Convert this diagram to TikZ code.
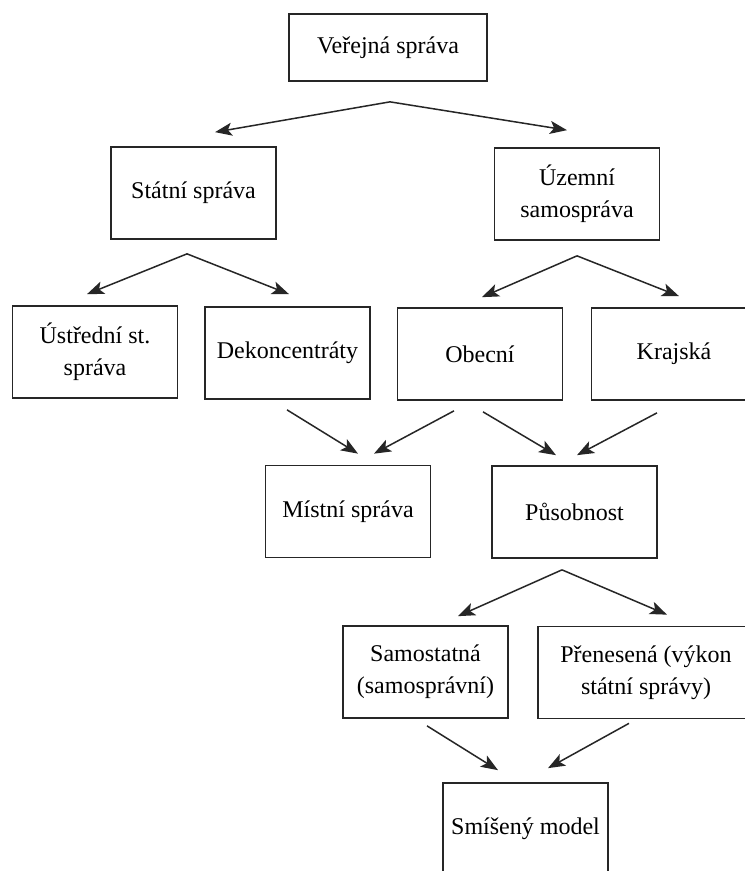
\documentclass[tikz,border=0pt]{standalone}
\usepackage{fontspec}
\setmainfont{Liberation Serif}
\usetikzlibrary{arrows.meta,calc}
\begin{document}
\begin{tikzpicture}[x=1pt,y=-1pt,
  box/.style={draw=black!85, line width=1.7pt, align=center, inner sep=0pt,
    minimum width=165pt, minimum height=92pt,
    font=\fontsize{24}{32}\selectfont, text=black},
  arr/.style={draw=black!85, line width=1.5pt, -{Stealth[length=17pt,width=13pt,inset=4pt]}}]
\useasboundingbox (0,0) rectangle (745,871);
\clip (0,0) rectangle (745,871);
\fill[white] (0,0) rectangle (745,871);

\node[box, minimum width=198pt, minimum height=67pt] (V) at (388,47.5) {Veřejná správa};
\node[box] (S) at (193.5,193) {Státní správa};
\node[box] (U) at (577,194) {Územní\\samospráva};
\node[box] (UST) at (95,352) {Ústřední st.\\správa};
\node[box] (D) at (287.5,353) {Dekoncentráty};
\node[box] (O) at (480,354) {Obecní};
\node[box] (K) at (674,354) {Krajská};
\node[box] (M) at (348,511.5) {Místní správa};
\node[box] (P) at (574.5,512) {Působnost};
\node[box] (SA) at (425.5,672) {Samostatná\\(samosprávní)};
\node[box, minimum width=216pt] (PR) at (646,672.5) {Přenesená (výkon\\státní správy)};
\node[box] (SM) at (525.5,829) {Smíšený model};

% apexes
\coordinate (aV) at ($(V.south)+(2,20)$);
\coordinate (aS) at ($(S.south)+(-6.5,14)$);
\coordinate (aU) at ($(U.south)+(0,15)$);
\coordinate (aP) at ($(P.south)+(-12.5,11)$);
% arrows
\draw[arr] (aV) -- ($(S.north)+(21.5,-14)$);
\draw[arr] (aV) -- ($(U.north)+(-10,-17)$);
\draw[arr] (aS) -- ($(UST.north)+(-8,-11)$);
\draw[arr] (aS) -- ($(D.north)+(1.5,-12)$);
\draw[arr] (aU) -- ($(O.north)+(2,-10)$);
\draw[arr] (aU) -- ($(K.north)+(5,-11)$);
\draw[arr] ($(D.south)+(-0.5,10)$) -- ($(M.north)+(10,-11)$);
\draw[arr] ($(O.south)+(-26,10)$) -- ($(M.north)+(26,-11)$);
\draw[arr] ($(O.south)+(3,11)$) -- ($(P.north)+(-18.5,-10)$);
\draw[arr] ($(K.south)+(-17,12)$) -- ($(P.north)+(2.5,-10)$);
\draw[arr] (aP) -- ($(SA.north)+(32.5,-9)$);
\draw[arr] (aP) -- ($(PR.north)+(21,-11)$);
\draw[arr] ($(SA.south)+(1.5,7)$) -- ($(SM.north)+(-27.5,-12)$);
\draw[arr] ($(PR.south)+(-17,4)$) -- ($(SM.north)+(22.5,-14)$);
\end{tikzpicture}
\end{document}
